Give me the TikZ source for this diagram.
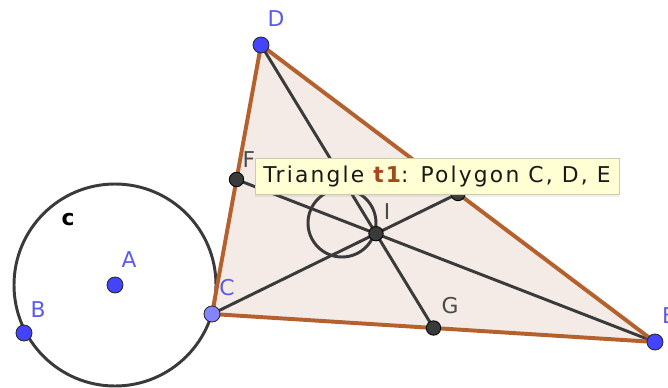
\documentclass[tikz,border=0pt]{standalone}
\usepackage{fontspec}
\setsansfont{DejaVu Sans}
\newfontfamily\tipfont[LetterSpace=10]{DejaVu Sans}
\usetikzlibrary{calc,shadows}
\definecolor{GeoBlue}{HTML}{4444FF}
\definecolor{GeoBlueLight}{HTML}{8484FF}
\definecolor{GeoLabel}{HTML}{5B5BE8}
\definecolor{GeoGray}{HTML}{4A4A4A}
\definecolor{GeoDark}{HTML}{3A3A3A}
\definecolor{GeoBrown}{HTML}{B4612E}
\definecolor{GeoFill}{HTML}{F4EBE7}
\definecolor{TipYellow}{HTML}{FFFFD3}
\definecolor{TipBrown}{HTML}{A4481C}

\begin{document}
\begin{tikzpicture}[x=0.025cm,y=-0.025cm,font=\sffamily,
  freept/.style={circle,draw=black!85,line width=0.6pt,fill=GeoBlue,minimum size=0.4cm,inner sep=0pt},
  deppt/.style={circle,draw=black,line width=0.6pt,fill=GeoDark,minimum size=0.36cm,inner sep=0pt},
  lblblue/.style={GeoLabel,inner sep=0pt,font=\sffamily\fontsize{15.5}{18}\selectfont},
  lblgray/.style={GeoGray,inner sep=0pt,font=\sffamily\fontsize{15.5}{18}\selectfont},
  seg/.style={GeoDark,line width=2.1pt},
  edge/.style={GeoBrown,line width=2.8pt,line join=round},
  tipbox/.style={fill=TipYellow,draw=TipYellow!80!black,line width=0.3pt,text=black!90,
    minimum width=9.1cm,minimum height=0.9cm,inner sep=0pt,
    drop shadow={opacity=0.12,shadow xshift=0pt,shadow yshift=-2pt},
    font=\tipfont\fontsize{15.5}{18}\selectfont}]
  \useasboundingbox (0,0) rectangle (668,387);
  % --- points libres ---
  \coordinate (A) at (115,285);
  \coordinate (B) at (24,333);
  \coordinate (C) at (212,314);
  \coordinate (D) at (261,45);
  \coordinate (E) at (655,342);
  % --- milieux et centre de gravite ---
  \coordinate (F) at ($(C)!0.5!(D)$);
  \coordinate (G) at ($(C)!0.5!(E)$);
  \coordinate (H) at ($(D)!0.5!(E)$);
  \coordinate (I) at ($(D)!2/3!(G)$);
  \coordinate (O) at (342,223);
  % triangle t1
  \fill[GeoFill] (C) -- (D) -- (E) -- cycle;
  % cercle c de centre A passant par C
  \draw[seg] (A) circle (101);
  % medianes
  \draw[seg] (D) -- (G);
  \draw[seg] (C) -- (H);
  \draw[seg] (E) -- (F);
  \draw[seg] (O) circle (34);
  \draw[edge] (C) -- (D) -- (E) -- cycle;
  % points
  \node[freept] (ptA) at (A){};
  \node[freept] (ptB) at (B){};
  \node[freept,fill=GeoBlueLight] (ptC) at (C){};
  \node[freept] (ptD) at (D){};
  \node[freept] (ptE) at (E){};
  \node[deppt] (ptF) at (F){};
  \node[deppt] (ptG) at (G){};
  \node[deppt] (ptH) at (H){};
  \node[deppt] (ptI) at (I){};
  % etiquettes
  \node[lblblue] (lA) at (129,260){A};
  \node[lblblue] (lB) at (38,310){B};
  \node[lblblue] (lC) at (227,288){C};
  \node[lblblue] (lD) at (276,19){D};
  \node[lblblue] (lE) at (669,316){E};
  \node[lblgray] (lF) at (249,160){F};
  \node[lblgray] (lG) at (450,306){G};
  \node[lblgray] (lI) at (387,212){I};
  \node[black,inner sep=0pt,font=\sffamily\bfseries\fontsize{15.5}{18}\selectfont] (lc) at (68,220){c};
  % info-bulle
  \node[tipbox] (tip) at (437,176){Triangle {\bfseries\color{TipBrown}t1}: Polygon C, D, E};
\end{tikzpicture}
\end{document}
